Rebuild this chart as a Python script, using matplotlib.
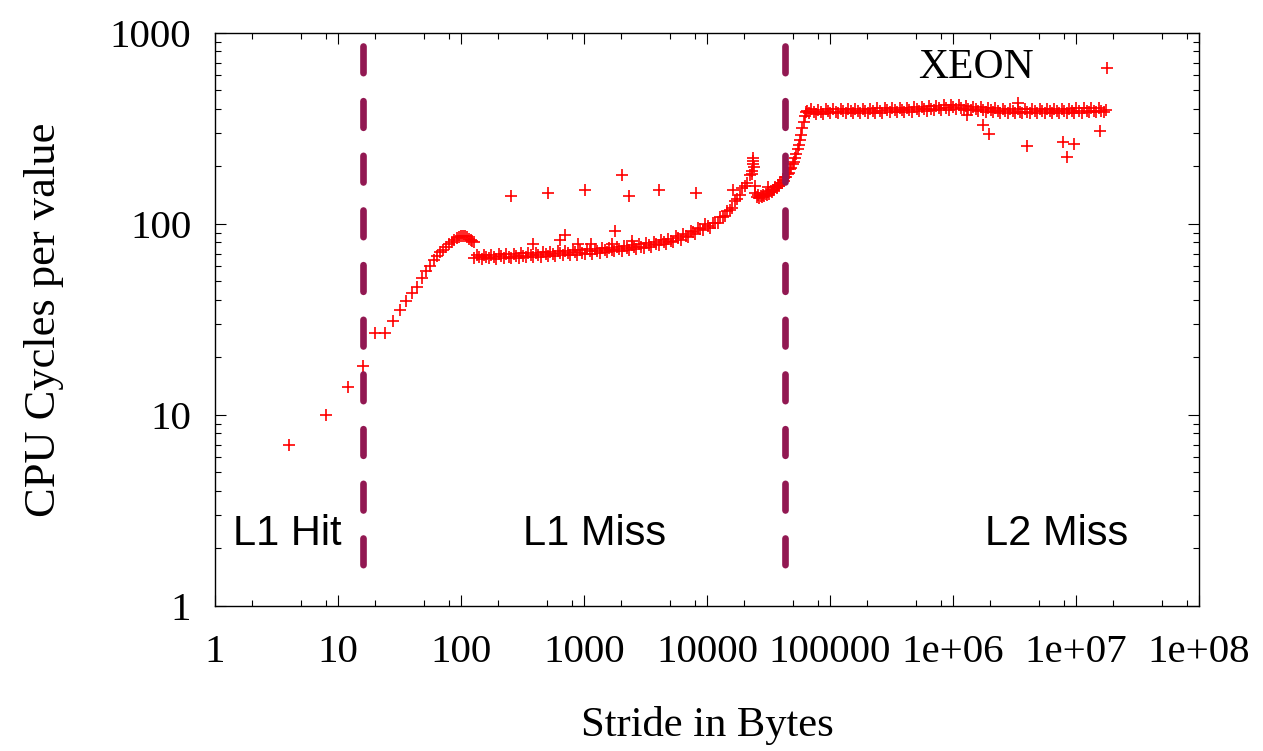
import matplotlib
matplotlib.use("Agg")
import matplotlib.pyplot as plt
from matplotlib.ticker import FixedLocator, FixedFormatter, LogLocator, NullFormatter

# stride 4..128 bytes, cycles per value
small_stride = [4, 8, 12, 16, 20, 24, 28, 32, 36, 40,
                44, 48, 52, 56, 60, 64, 68, 72, 76, 80,
                84, 88, 92, 96, 100, 104, 108, 112, 116, 120,
                124, 128]
small_cycles = [7, 10, 14, 18, 27, 27, 31, 35.5, 39.5, 43.5,
                47, 52, 57, 60.5, 64.5, 68, 71, 73.5, 76, 78.5,
                80.5, 82.5, 84, 85.5, 86.5, 86.5, 86, 85, 83.5, 82,
                81, 80.5]

# L1 miss region (dense band)
l1miss_stride = [128, 134, 140, 147, 154, 161, 169, 177, 185, 194,
                 203, 213, 223, 233, 244, 256, 268, 280, 294, 307,
                 322, 337, 353, 370, 387, 405, 424, 444, 465, 487,
                 510, 534, 559, 585, 613, 642, 672, 704, 737, 771,
                 808, 846, 885, 927, 971, 1016, 1064, 1114, 1167, 1222,
                 1279, 1340, 1403, 1469, 1538, 1610, 1686, 1766, 1849, 1936,
                 2027, 2123, 2223, 2327, 2437, 2552, 2672, 2798, 2930, 3068,
                 3212, 3364, 3522, 3688, 3862, 4044, 4234, 4434, 4643, 4861,
                 5090, 5330, 5581, 5844, 6120, 6408, 6710, 7026, 7357, 7704,
                 8067, 8447, 8845, 9261, 9698, 10155, 10633, 11134, 11659, 12208,
                 12783, 13385, 14016, 14676, 15368, 16092, 16850, 17644, 18475, 19346,
                 20257, 21212, 22211, 23257, 23400, 23500, 23650, 23800, 23950, 24353,
                 24800, 25500, 26100, 26702, 27300, 27960, 28600, 29278, 30000, 30657,
                 31400, 32102, 32900, 33614, 34400, 35198, 36000, 36857, 37700, 38594,
                 39500, 40412, 41300, 42317, 43300, 44311, 45300, 46399, 47500, 48586,
                 49700, 50875, 52000, 53273, 54500, 55783, 57000, 58412, 59800, 61165,
                 62600, 64047, 65500]
l1miss_cycles = [66.0, 68.5, 67.2, 65.8, 69.0, 67.5, 66.2, 68.9, 67.0, 65.9,
                 69.4, 67.8, 66.3, 69.6, 67.4, 66.4, 70.0, 68.3, 66.7, 70.1,
                 68.0, 66.9, 70.4, 68.8, 67.1, 70.7, 68.6, 67.5, 71.0, 69.4,
                 67.7, 71.3, 69.3, 68.1, 71.8, 70.2, 68.4, 72.2, 70.1, 68.8,
                 72.7, 71.0, 69.1, 73.1, 70.9, 69.7, 73.6, 71.9, 70.0, 74.1,
                 71.9, 70.6, 74.7, 73.0, 71.1, 75.3, 73.1, 71.8, 75.9, 74.2,
                 72.4, 76.7, 74.5, 73.1, 77.5, 75.8, 74.0, 78.4, 76.2, 74.9,
                 79.5, 77.8, 76.0, 80.7, 78.5, 77.3, 82.2, 80.5, 78.8, 83.9,
                 81.8, 80.7, 86.0, 84.5, 82.9, 88.6, 86.7, 85.8, 91.8, 90.4,
                 89.1, 95.5, 93.8, 93.2, 100.1, 97.0, 95.8, 101.5, 101.0, 101.5,
                 108.5, 108.8, 109.5, 117.5, 118.0, 121.0, 132.0, 134.5, 141.0, 155.0,
                 159.0, 163.3, 180.8, 182.5, 190.0, 222.0, 214.0, 206.0, 199.0, 158.0,
                 146.0, 138.5, 141.5, 137.2, 140.8, 138.6, 142.5, 140.2, 144.0, 141.8,
                 146.2, 144.0, 148.8, 146.8, 151.5, 150.0, 155.5, 154.0, 159.5, 158.2,
                 164.0, 163.0, 169.0, 168.5, 175.5, 176.0, 183.5, 185.0, 193.0, 197.0,
                 206.0, 212.0, 222.0, 232.0, 246.0, 258.0, 276.0, 293.0, 318.0, 342.0,
                 366.0, 384.0, 392.0]

# L2 miss plateau
l2miss_stride = [67000, 70200, 73500, 76900, 80500, 84300, 88300, 92500, 96800, 101000,
                 106000, 111000, 116000, 122000, 128000, 134000, 140000, 147000, 153000, 161000,
                 168000, 176000, 184000, 193000, 202000, 212000, 222000, 232000, 243000, 255000,
                 267000, 279000, 292000, 306000, 320000, 336000, 351000, 368000, 385000, 403000,
                 422000, 442000, 463000, 485000, 508000, 532000, 557000, 583000, 610000, 639000,
                 669000, 701000, 734000, 768000, 804000, 842000, 882000, 924000, 967000, 1.01e6,
                 1.06e6, 1.11e6, 1.16e6, 1.22e6, 1.27e6, 1.33e6, 1.40e6, 1.46e6, 1.53e6, 1.60e6,
                 1.68e6, 1.76e6, 1.84e6, 1.93e6, 2.02e6, 2.11e6, 2.21e6, 2.32e6, 2.43e6, 2.54e6,
                 2.66e6, 2.79e6, 2.92e6, 3.06e6, 3.20e6, 3.35e6, 3.51e6, 3.67e6, 3.85e6, 4.03e6,
                 4.22e6, 4.42e6, 4.63e6, 4.84e6, 5.07e6, 5.31e6, 5.56e6, 5.82e6, 6.10e6, 6.38e6,
                 6.68e6, 7.00e6, 7.33e6, 7.67e6, 8.04e6, 8.41e6, 8.81e6, 9.23e6, 9.66e6, 1.01e7,
                 1.06e7, 1.11e7, 1.16e7, 1.22e7, 1.27e7, 1.33e7, 1.40e7, 1.46e7, 1.53e7, 1.60e7,
                 1.68e7, 1.75e7]
l2miss_cycles = [383, 399, 388, 377, 397, 386, 378, 398, 389, 380,
                 400, 388, 379, 399, 390, 381, 401, 389, 380, 400,
                 391, 382, 402, 390, 381, 402, 392, 383, 403, 391,
                 382, 404, 393, 384, 405, 393, 385, 406, 395, 386,
                 407, 396, 387, 409, 398, 389, 411, 399, 391, 413,
                 401, 393, 415, 403, 395, 418, 405, 397, 420, 408,
                 399, 419, 405, 396, 415, 402, 393, 412, 399, 390,
                 409, 397, 387, 406, 394, 385, 404, 392, 383, 402,
                 390, 381, 401, 389, 380, 400, 388, 380, 400, 388,
                 380, 400, 389, 380, 401, 389, 381, 401, 390, 381,
                 402, 390, 382, 402, 391, 382, 402, 391, 383, 403,
                 392, 383, 403, 392, 384, 404, 392, 384, 403, 392,
                 384, 396]

# stray measurements
outlier_stride = [256, 512, 1024, 2048, 2304, 4096, 8192, 16384, 1786, 701,
                  638, 383, 900, 1150, 1680, 2440, 31600, 1.29e6, 1.76e6, 1.97e6,
                  3.4e6, 3.97e6, 7.9e6, 8.4e6, 9.6e6, 1.57e7, 1.8e7]
outlier_cycles = [140, 145, 150, 181, 140, 151, 145, 151, 92, 87.6,
                  82, 79, 79, 79, 79, 81, 157, 372, 330, 296,
                  432, 256, 269, 223, 262, 308, 653]

boundaries = [16, 43000]
region_names = ["L1 Hit", "L1 Miss", "L2 Miss"]
region_x = [1.4, 319, 1.82e6]

x_ticks = [1, 10, 100, 1000, 10000, 100000, 1e6, 1e7, 1e8]
x_ticklabels = ["1", "10", "100", "1000", "10000", "100000", "1e+06", "1e+07", "1e+08"]
y_ticks = [1, 10, 100, 1000]
y_ticklabels = ["1", "10", "100", "1000"]

SERIF = "Liberation Serif"
SANS = "Liberation Sans"
RED = "#ff0000"
LINE = "#921852"

fig = plt.figure(figsize=(12.63, 7.51), dpi=100)
ax = fig.add_axes([0.1702, 0.1931, 0.7791, 0.7630])
ax.set_xscale("log")
ax.set_yscale("log")
ax.set_xlim(1, 1e8)
ax.set_ylim(1, 1000)

mk = dict(linestyle="none", marker="+", color=RED, markersize=8.8, markeredgewidth=1.2)
ax.plot(small_stride, small_cycles, **mk)
ax.plot(l1miss_stride, l1miss_cycles, **mk)
ax.plot(l2miss_stride, l2miss_cycles, **mk)
ax.plot(outlier_stride, outlier_cycles, **mk)

for b in boundaries:
    ax.plot([b, b], [855, 1.43], color=LINE, linewidth=4.8,
            dashes=(4.0, 4.2), dash_capstyle="round", zorder=5)

for name, x in zip(region_names, region_x):
    ax.text(x, 2.09, name, family=SANS, fontsize=30, ha="left", va="baseline")
ax.text(5.22e5, 581, "XEON", family=SERIF, fontsize=30, ha="left", va="baseline")

ax.xaxis.set_major_locator(FixedLocator(x_ticks))
ax.xaxis.set_major_formatter(FixedFormatter(x_ticklabels))
ax.xaxis.set_minor_locator(LogLocator(base=10, subs=[2, 5, 8], numticks=20))
ax.xaxis.set_minor_formatter(NullFormatter())
ax.yaxis.set_major_locator(FixedLocator(y_ticks))
ax.yaxis.set_major_formatter(FixedFormatter(y_ticklabels))
ax.yaxis.set_minor_locator(LogLocator(base=10, subs=[2, 3, 4, 5, 6, 7, 8, 9], numticks=20))
ax.yaxis.set_minor_formatter(NullFormatter())

ax.tick_params(which="both", direction="in", top=True, right=True, width=0.8)
ax.tick_params(which="major", length=8)
ax.tick_params(which="minor", length=4.3)
ax.tick_params(axis="x", which="major", pad=20)
ax.tick_params(axis="y", which="major", pad=17)
for lab in ax.get_xticklabels() + ax.get_yticklabels():
    lab.set_family(SERIF)
    lab.set_fontsize(29.5)
for sp in ax.spines.values():
    sp.set_linewidth(1.0)

ax.set_xlabel("Stride in Bytes", family=SERIF, fontsize=30.7)
ax.set_ylabel("CPU Cycles per value", family=SERIF, fontsize=32)
ax.xaxis.set_label_coords(0.5, -0.175)
ax.yaxis.set_label_coords(-0.153, 0.5)

fig.savefig("out.png", dpi=100)
